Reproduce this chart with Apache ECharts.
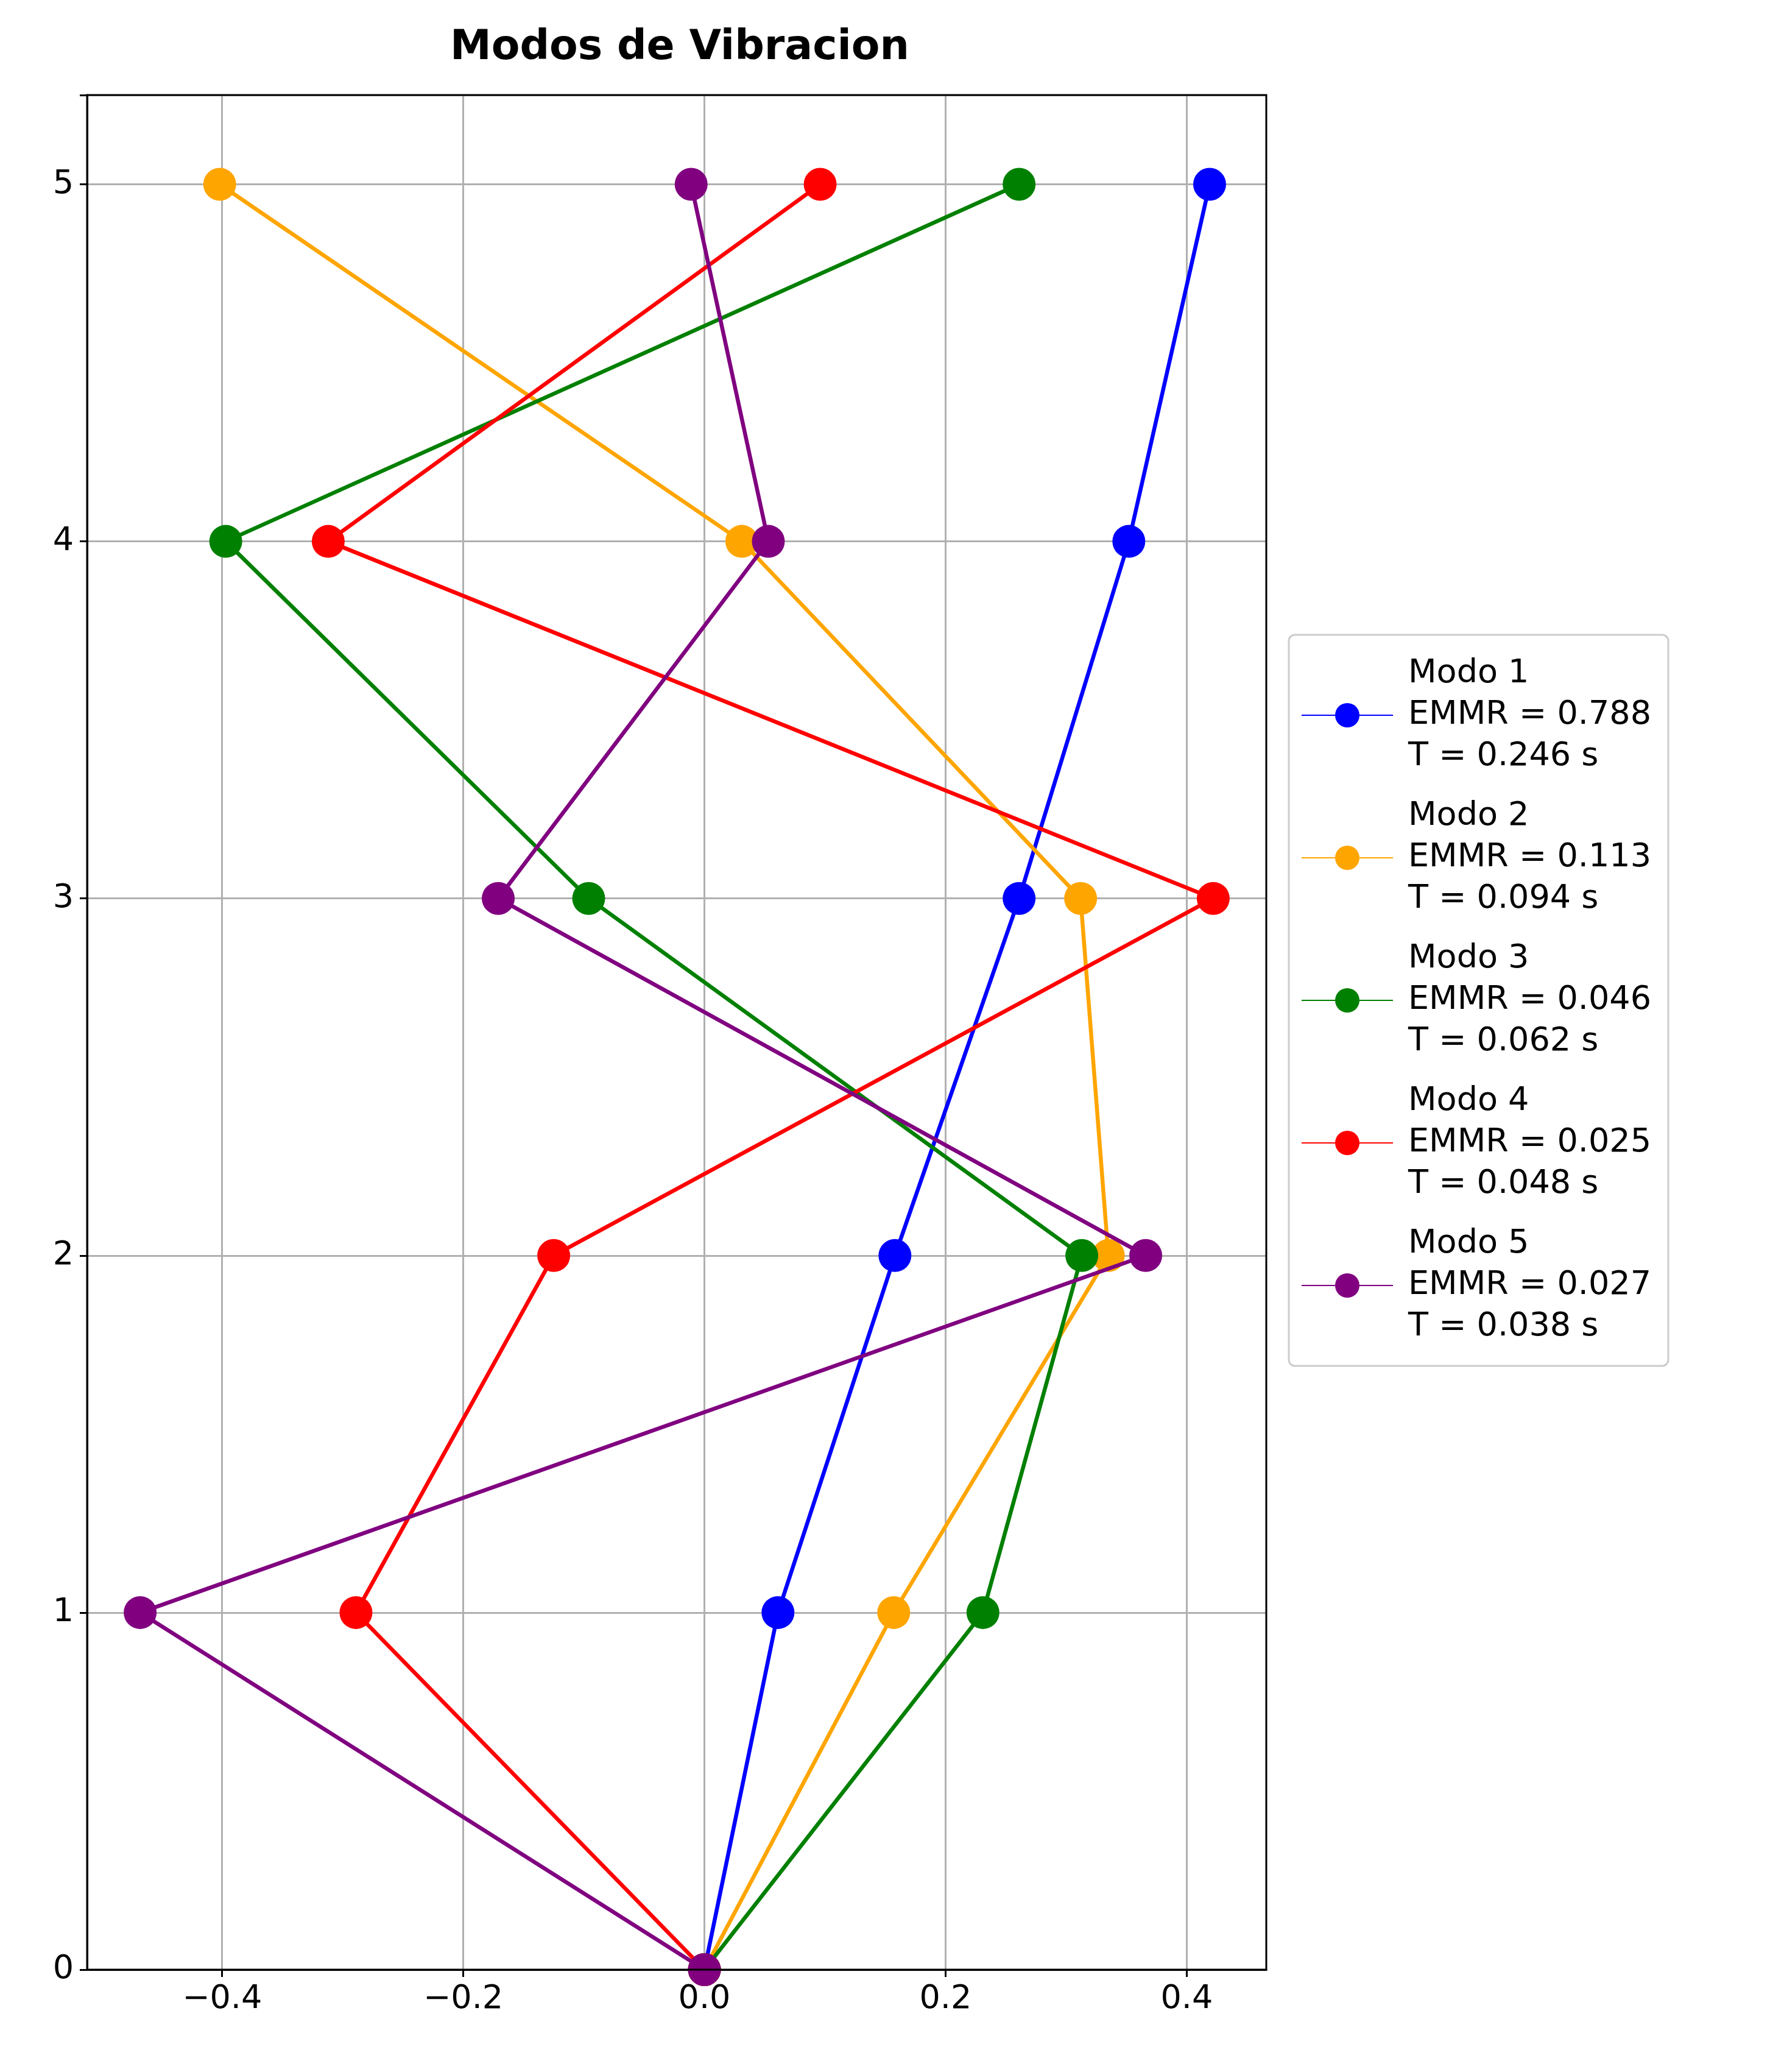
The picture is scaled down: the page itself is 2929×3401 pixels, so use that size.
<!DOCTYPE html>
<html><head><meta charset="utf-8">
<script src="https://cdn.jsdelivr.net/npm/echarts@6/dist/echarts.min.js"></script>
<style>html,body{margin:0;background:#fff}#main{width:2929px;height:3401px}</style>
</head><body><div id="main"></div>
<script>
const floors = [0, 1, 2, 3, 4, 5];
const modeNames = [
  'Modo 1\nEMMR = 0.788\nT = 0.246 s',
  'Modo 2\nEMMR = 0.113\nT = 0.094 s',
  'Modo 3\nEMMR = 0.046\nT = 0.062 s',
  'Modo 4\nEMMR = 0.025\nT = 0.048 s',
  'Modo 5\nEMMR = 0.027\nT = 0.038 s'
];
const colors = ['blue', 'orange', 'green', 'red', 'purple'];
const modo1 = [0, 0.061, 0.158, 0.261, 0.352, 0.419];
const modo2 = [0, 0.157, 0.335, 0.312, 0.031, -0.402];
const modo3 = [0, 0.231, 0.313, -0.096, -0.397, 0.261];
const modo4 = [0, -0.289, -0.125, 0.422, -0.312, 0.096];
const modo5 = [0, -0.468, 0.366, -0.171, 0.053, -0.011];
const modes = [modo1, modo2, modo3, modo4, modo5];
const xTicks = [-0.4, -0.2, 0, 0.2, 0.4];

const fmt = v => v.toFixed(1).replace('-', '\u2212');
const chart = echarts.init(document.getElementById('main'));
chart.setOption({
  animation: false,
  textStyle: { fontFamily: 'DejaVu Sans' },
  title: { text: 'Modos de Vibracion', left: 1111, top: 40, textAlign: 'center',
    textStyle: { fontSize: 68, fontWeight: 'bold', color: '#000' } },
  grid: { left: 143, right: 850, top: 156, bottom: 168, show: true, borderColor: '#000', borderWidth: 3, z: 10 },
  legend: {
    orient: 'vertical', left: 2116, top: 1042, padding: [30, 28, 30, 20],
    borderColor: '#ccc', borderWidth: 3, borderRadius: 10, backgroundColor: '#fff',
    itemWidth: 150, itemHeight: 50, itemGap: 30,
    textStyle: { fontSize: 54, color: '#000', lineHeight: 68, padding: [0, 0, 0, 20] },
    data: modeNames
  },
  xAxis: {
    type: 'value', min: -0.512, max: 0.466,
    axisLine: { show: true, onZero: false, lineStyle: { color: '#000', width: 3 } },
    axisTick: { show: true, customValues: xTicks, length: 12, lineStyle: { color: '#000', width: 3 } },
    axisLabel: { customValues: xTicks, formatter: fmt, fontSize: 54, color: '#000', margin: 22 },
    splitLine: { show: true, lineStyle: { color: '#b0b0b0', width: 3 } }
  },
  yAxis: {
    type: 'value', min: 0, max: 5.25, interval: 1,
    axisLine: { show: true, onZero: false, lineStyle: { color: '#000', width: 3 } },
    axisTick: { show: true, length: 12, lineStyle: { color: '#000', width: 3 } },
    axisLabel: { fontSize: 54, color: '#000', margin: 22,
      formatter: v => Number.isInteger(v) ? String(v) : '' },
    splitLine: { show: true, lineStyle: { color: '#b0b0b0', width: 3 } }
  },
  series: modes.map((m, i) => ({
    name: modeNames[i], type: 'line', color: colors[i],
    data: m.map((x, j) => [x, floors[j]]),
    symbol: 'circle', symbolSize: 54, showAllSymbol: true,
    lineStyle: { width: 6.5, color: colors[i] },
    itemStyle: { color: colors[i] },
    z: 2 + i
  }))
});
</script></body></html>
